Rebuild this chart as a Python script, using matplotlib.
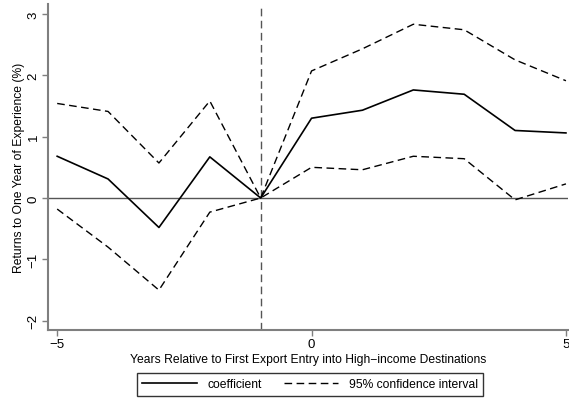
import matplotlib
matplotlib.use("Agg")
import matplotlib.pyplot as plt
from matplotlib.lines import Line2D

plt.rcParams['font.family'] = ['Liberation Sans', 'DejaVu Sans']

years = [-5, -4, -3, -2, -1, 0, 1, 2, 3, 4, 5]
coef = [0.68, 0.31, -0.48, 0.67, 0.0, 1.30, 1.43, 1.76, 1.69, 1.10, 1.06]
ci_upper = [1.54, 1.41, 0.57, 1.58, 0.0, 2.07, 2.43, 2.83, 2.74, 2.25, 1.91]
ci_lower = [-0.18, -0.80, -1.50, -0.23, 0.0, 0.50, 0.46, 0.68, 0.64, -0.03, 0.23]
x_ticks = [-5, 0, 5]
y_ticks = [-2, -1, 0, 1, 2, 3]

fig = plt.figure(figsize=(5.69, 4.06), dpi=100)
ax = fig.add_axes([0.0844, 0.1847, 0.9138, 0.803])

grey = '#7f7f7f'
dash = (0, (5.5, 3.2))
ax.axhline(0, color='#555555', lw=1.0, zorder=1)
ax.axvline(-1, color='#555555', lw=1.0, ls=dash, zorder=1)

ax.plot(years, coef, color='black', lw=1.2, zorder=3)
ax.plot(years, ci_upper, color='black', lw=1.0, ls=dash, zorder=3)
ax.plot(years, ci_lower, color='black', lw=1.0, ls=dash, zorder=3)

ax.set_xlim(-5.18, 5.04)
ax.set_ylim(-2.15, 3.16)
ax.set_xticks(x_ticks)
ax.set_yticks(y_ticks)
ax.set_xticklabels(['\u22125', '0', '5'])
ax.set_yticklabels(['\u22122', '\u22121', '0', '1', '2', '3'], rotation=90, va='center')

for side in ['top', 'right']:
    ax.spines[side].set_visible(False)
for side in ['left', 'bottom']:
    ax.spines[side].set_color(grey)
    ax.spines[side].set_linewidth(1.5)
ax.tick_params(axis='both', direction='out', length=4, width=1, color=grey,
               labelsize=9.5, pad=2)

ax.set_xlabel('Years Relative to First Export Entry into High\u2212income Destinations',
              fontsize=8.7, labelpad=2)
ax.set_ylabel('Returns to One Year of Experience (%)', fontsize=8.7, labelpad=2)

handles = [Line2D([], [], color='black', lw=1.2),
           Line2D([], [], color='black', lw=1.0, ls=dash)]
leg = fig.legend(handles, ['coefficient', '95% confidence interval'],
                 loc='center', bbox_to_anchor=(0.545, 0.0505), ncol=2,
                 fontsize=8.7, frameon=True, fancybox=False, handlelength=4.5,
                 columnspacing=1.8, borderpad=0.45, handletextpad=0.9,
                 borderaxespad=0)
leg.get_frame().set_edgecolor('black')
leg.get_frame().set_linewidth(1.0)

fig.savefig('out.png', dpi=100, facecolor='white')
